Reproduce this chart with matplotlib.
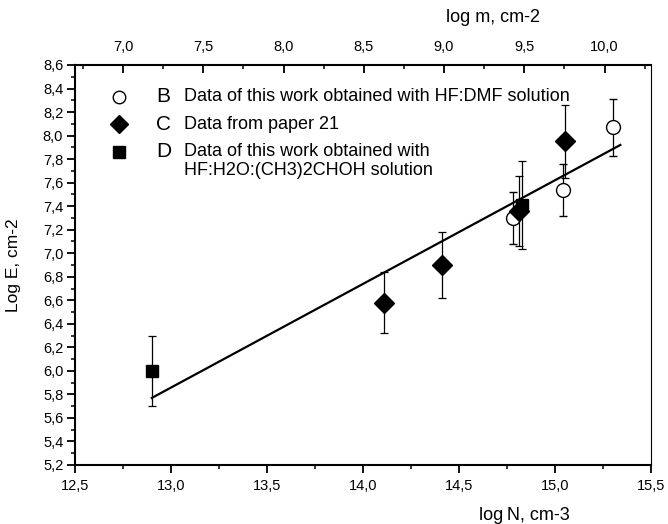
import matplotlib
matplotlib.use("Agg")
import matplotlib.pyplot as plt
from matplotlib.ticker import MultipleLocator, FuncFormatter

plt.rcParams['font.family'] = ['Liberation Sans', 'DejaVu Sans']

# ---- data ----
b_x = [14.78, 15.04, 15.30]
b_y = [7.30, 7.54, 8.07]
b_err = [0.22, 0.22, 0.24]

c_x = [14.11, 14.41, 14.81, 15.05]
c_y = [6.58, 6.90, 7.36, 7.95]
c_err = [0.26, 0.28, 0.30, 0.31]

d_x = [12.90, 14.83]
d_y = [6.00, 7.41]
d_err = [0.30, 0.37]

fit_x = [12.90, 15.34]
fit_y = [5.77, 7.92]

xlim = (12.5, 15.5)
ylim = (5.2, 8.6)
top_lim = (6.70, 10.29)

legend_letters = ["B", "C", "D"]
legend_texts = [["Data of this work obtained with HF:DMF solution"],
                ["Data from paper 21"],
                ["Data of this work obtained with", "HF:H2O:(CH3)2CHOH solution"]]

x_label = "log\u2009N, cm-3"
y_label = "Log E, cm-2"
top_label = "log m, cm-2"

comma = FuncFormatter(lambda v, p: f"{v:.1f}".replace(".", ","))

fig = plt.figure(figsize=(6.68, 5.24), dpi=100)
ax = fig.add_axes([0.1123, 0.1126, 0.8623, 0.7634])

eb_kw = dict(ecolor='black', elinewidth=0.9, capsize=3, capthick=0.9, linestyle='none', zorder=3)
ax.errorbar(b_x, b_y, yerr=b_err, fmt='o', ms=10, mfc='white', mec='black', mew=1.0, **eb_kw)
ax.errorbar(c_x, c_y, yerr=c_err, fmt='D', ms=10, mfc='black', mec='black', **eb_kw)
ax.errorbar(d_x, d_y, yerr=d_err, fmt='s', ms=9, mfc='black', mec='black', **eb_kw)
ax.plot(fit_x, fit_y, color='black', lw=1.6, zorder=4)

ax.set_xlim(*xlim)
ax.set_ylim(*ylim)
ax.xaxis.set_major_locator(MultipleLocator(0.5))
ax.xaxis.set_minor_locator(MultipleLocator(0.25))
ax.yaxis.set_major_locator(MultipleLocator(0.2))
ax.yaxis.set_minor_locator(MultipleLocator(0.1))
ax.xaxis.set_major_formatter(comma)
ax.yaxis.set_major_formatter(comma)
ax.tick_params(axis='both', which='major', direction='out', length=6, width=1.3, labelsize=10.5)
ax.tick_params(axis='both', which='minor', direction='out', length=3, width=1.1)
ax.tick_params(axis='x', which='major', pad=4)
ax.tick_params(axis='y', which='major', pad=2.5)
ax.tick_params(top=False, right=False, which='both')

for s in ['left', 'bottom', 'top']:
    ax.spines[s].set_linewidth(1.5)
ax.spines['right'].set_linewidth(0.8)

ax.set_ylabel(y_label, fontsize=12.5)
ax.yaxis.set_label_coords(-0.093, 0.5)
fig.text(524 / 668, 1 - 515 / 524, x_label, ha='center', va='center', fontsize=13)

top = ax.twiny()
top.set_xlim(*top_lim)
top.xaxis.set_major_locator(MultipleLocator(0.5))
top.xaxis.set_minor_locator(MultipleLocator(0.25))
top.xaxis.set_major_formatter(comma)
top.tick_params(axis='x', which='major', direction='in', length=6, width=1.3, labelsize=10.5, pad=8)
top.tick_params(axis='x', which='minor', direction='in', length=3, width=1.1)
for s in top.spines.values():
    s.set_visible(False)
fig.text(493 / 668, 1 - 18 / 524, top_label, ha='center', va='center', fontsize=13)

# ---- legend (manual) ----
leg_rows = [0.921, 0.852, 0.783]
line_step = 0.046
leg_markers = [dict(marker='o', ms=9, mfc='white', mec='black', mew=1.0),
               dict(marker='D', ms=9, mfc='black', mec='black'),
               dict(marker='s', ms=8, mfc='black', mec='black')]
for yy, mk, letter, lines in zip(leg_rows, leg_markers, legend_letters, legend_texts):
    ax.plot([0.0764], [yy], transform=ax.transAxes, linestyle='none', clip_on=False, **mk)
    ax.text(0.141, yy, letter, transform=ax.transAxes, ha='left', va='center', fontsize=15)
    for i, txt in enumerate(lines):
        ax.text(0.189, yy - i * line_step, txt, transform=ax.transAxes, ha='left', va='center',
                fontsize=13)

fig.savefig("out.png", dpi=100)
